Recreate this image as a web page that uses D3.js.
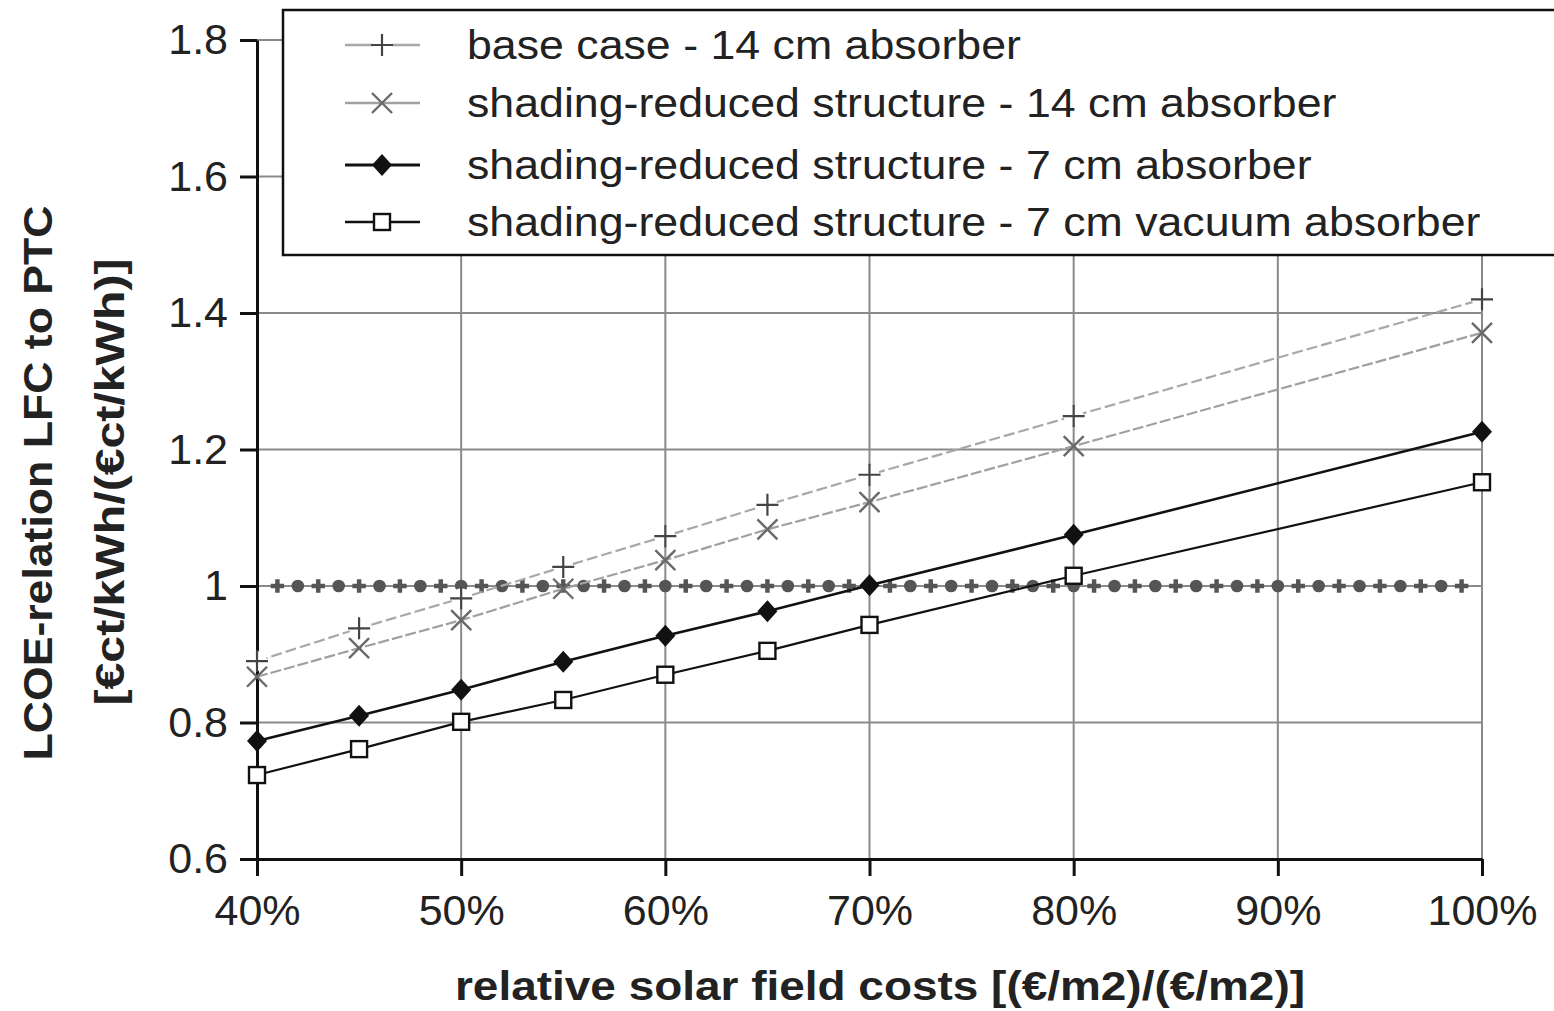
<!DOCTYPE html>
<meta charset="utf-8">
<head>
    <style type="text/css">
        body { margin: 0; background: #fff; }
        text { font-family: "Liberation Sans", Arial, sans-serif; fill: #222; }
        .grid line { stroke: #8a8a8a; stroke-width: 2; }
        .axis path, .axis line { stroke: #111; stroke-width: 3; }
        .axis text { font-size: 43px; }
        .title { font-size: 40px; font-weight: bold; }
        .legend text { font-size: 41px; }
    </style>
</head>
<body>
    <script src="https://d3js.org/d3.v7.min.js"></script>
    <script>
        // x values (% of relative solar field costs)
        var xs = [40, 45, 50, 55, 60, 65, 70, 80, 100];

        // series values
        var baseCase14 = [0.89, 0.938, 0.982, 1.028, 1.073, 1.119, 1.163, 1.249, 1.42];
        var shading14 = [0.867, 0.909, 0.950, 0.996, 1.038, 1.083, 1.123, 1.205, 1.371];
        var shading7 = [0.773, 0.810, 0.848, 0.889, 0.927, 0.963, 1.001, 1.075, 1.226];
        var shading7vac = [0.723, 0.761, 0.801, 0.833, 0.870, 0.905, 0.943, 1.015, 1.152];

        // reference line LFC = PTC (value 1), markers every 1 %
        var refX = [41, 42, 43, 44, 45, 46, 47, 48, 49, 50, 51, 52, 53, 54, 55, 56, 57, 58, 59, 60,
            61, 62, 63, 64, 65, 66, 67, 68, 69, 70, 71, 72, 73, 74, 75, 76, 77, 78, 79, 80,
            81, 82, 83, 84, 85, 86, 87, 88, 89, 90, 91, 92, 93, 94, 95, 96, 97, 98, 99];
        var refValue = 1;

        var xTicks = [40, 50, 60, 70, 80, 90, 100];
        var yTicks = [0.6, 0.8, 1.0, 1.2, 1.4, 1.6, 1.8];

        var legendLabels = [
            "base case - 14 cm absorber",
            "shading-reduced structure - 14 cm absorber",
            "shading-reduced structure - 7 cm absorber",
            "shading-reduced structure - 7 cm vacuum absorber"
        ];

        var W = 1554, H = 1011;
        var margin = { top: 40, right: 72, bottom: 152, left: 257 };

        var x = d3.scaleLinear().domain([40, 100]).range([margin.left, W - margin.right]);
        var y = d3.scaleLinear().domain([0.6, 1.8]).range([H - margin.bottom, margin.top]);

        var svg = d3.select("body").append("svg")
            .attr("width", W)
            .attr("height", H);

        // grid
        var grid = svg.append("g").attr("class", "grid");
        grid.selectAll(".vg").data(xTicks.slice(1)).enter().append("line")
            .attr("x1", function (d) { return x(d); }).attr("x2", function (d) { return x(d); })
            .attr("y1", y(0.6)).attr("y2", y(1.8));
        grid.selectAll(".hg").data(yTicks.slice(1)).enter().append("line")
            .attr("x1", x(40)).attr("x2", x(100))
            .attr("y1", function (d) { return y(d); }).attr("y2", function (d) { return y(d); });

        // axes
        var fmtY = function (d) { return String(+d.toFixed(1)); };
        svg.append("g").attr("class", "axis")
            .attr("transform", "translate(0," + y(0.6) + ")")
            .call(d3.axisBottom(x).tickValues(xTicks).tickSize(17).tickSizeOuter(0).tickPadding(18)
                .tickFormat(function (d) { return d + "%"; }));
        svg.append("g").attr("class", "axis")
            .attr("transform", "translate(" + x(40) + ",0)")
            .call(d3.axisLeft(y).tickValues(yTicks).tickSize(17).tickSizeOuter(0).tickPadding(12)
                .tickFormat(fmtY));
        svg.selectAll(".axis text").attr("fill", "#222");

        // reference markers at 1
        svg.append("g").selectAll("path").data(refX).enter().append("path")
            .attr("transform", function (d) { return "translate(" + x(d) + "," + y(refValue) + ")"; })
            .attr("d", function (d, i) {
                return d3.symbol().type(i % 2 ? d3.symbolCircle : d3.symbolCross).size(i % 2 ? 125 : 100)();
            })
            .attr("fill", "#555");

        var line = d3.line()
            .x(function (d, i) { return x(xs[i]); })
            .y(function (d) { return y(d); });

        var series = [
            { vals: baseCase14, color: "#a8a8a8", dash: "11,4", width: 2.2, mark: "plus" },
            { vals: shading14, color: "#a0a0a0", dash: "11,3", width: 2.2, mark: "x" },
            { vals: shading7, color: "#111", dash: null, width: 2.6, mark: "diamond" },
            { vals: shading7vac, color: "#111", dash: null, width: 2.2, mark: "square" }
        ];

        function drawMarker(g, type, cx, cy) {
            if (type === "plus") {
                g.append("circle").attr("cx", cx).attr("cy", cy).attr("r", 10).attr("fill", "#fff");
                g.append("path").attr("d", "M" + (cx - 11) + "," + cy + "H" + (cx + 11) + "M" + cx + "," + (cy - 11) + "V" + (cy + 11))
                    .attr("stroke", "#444").attr("stroke-width", 2.2).attr("fill", "none");
            } else if (type === "x") {
                g.append("path").attr("d", "M" + (cx - 10) + "," + (cy - 10) + "L" + (cx + 10) + "," + (cy + 10) +
                    "M" + (cx - 10) + "," + (cy + 10) + "L" + (cx + 10) + "," + (cy - 10))
                    .attr("stroke", "#6a6a6a").attr("stroke-width", 2.4).attr("fill", "none");
            } else if (type === "diamond") {
                g.append("path").attr("d", "M" + cx + "," + (cy - 11) + "L" + (cx + 10) + "," + cy + "L" + cx + "," + (cy + 11) + "L" + (cx - 10) + "," + cy + "Z")
                    .attr("fill", "#111");
            } else {
                g.append("rect").attr("x", cx - 8).attr("y", cy - 8).attr("width", 16).attr("height", 16)
                    .attr("fill", "#fff").attr("stroke", "#111").attr("stroke-width", 2.4);
            }
        }

        series.forEach(function (s) {
            svg.append("path")
                .datum(s.vals)
                .attr("d", line)
                .attr("fill", "none")
                .attr("stroke", s.color)
                .attr("stroke-width", s.width)
                .attr("stroke-dasharray", s.dash);
            var g = svg.append("g");
            s.vals.forEach(function (v, i) { drawMarker(g, s.mark, x(xs[i]), y(v)); });
        });

        // legend
        var lg = svg.append("g").attr("class", "legend");
        lg.append("rect").attr("x", 283).attr("y", 10).attr("width", 1300).attr("height", 245)
            .attr("fill", "#fff").attr("stroke", "#111").attr("stroke-width", 2.5);
        var rowY = [45, 103, 165, 222];
        series.forEach(function (s, i) {
            var yy = rowY[i];
            lg.append("line").attr("x1", 345).attr("x2", 420).attr("y1", yy).attr("y2", yy)
                .attr("stroke", s.color).attr("stroke-width", s.width + 0.4);
            drawMarker(lg, s.mark, 382, yy);
            var t = lg.append("text").attr("x", 467).attr("y", yy + 14).text(legendLabels[i]);
            // the original font is a bit wider than Liberation Sans
            t.attr("textLength", t.node().getComputedTextLength() * 1.09)
                .attr("lengthAdjust", "spacingAndGlyphs");
        });

        // axis titles
        svg.append("text").attr("class", "title")
            .attr("x", 880).attr("y", 1000).attr("text-anchor", "middle")
            .attr("textLength", 850).attr("lengthAdjust", "spacingAndGlyphs")
            .text("relative solar field costs [(€/m2)/(€/m2)]");
        svg.append("text").attr("class", "title")
            .attr("transform", "translate(52,483) rotate(-90)").attr("text-anchor", "middle")
            .attr("textLength", 555).attr("lengthAdjust", "spacingAndGlyphs")
            .text("LCOE-relation LFC to PTC");
        svg.append("text").attr("class", "title")
            .attr("transform", "translate(124,482) rotate(-90)").attr("text-anchor", "middle")
            .attr("textLength", 447).attr("lengthAdjust", "spacingAndGlyphs")
            .text("[€ct/kWh/(€ct/kWh)]");
    </script>
</body>
